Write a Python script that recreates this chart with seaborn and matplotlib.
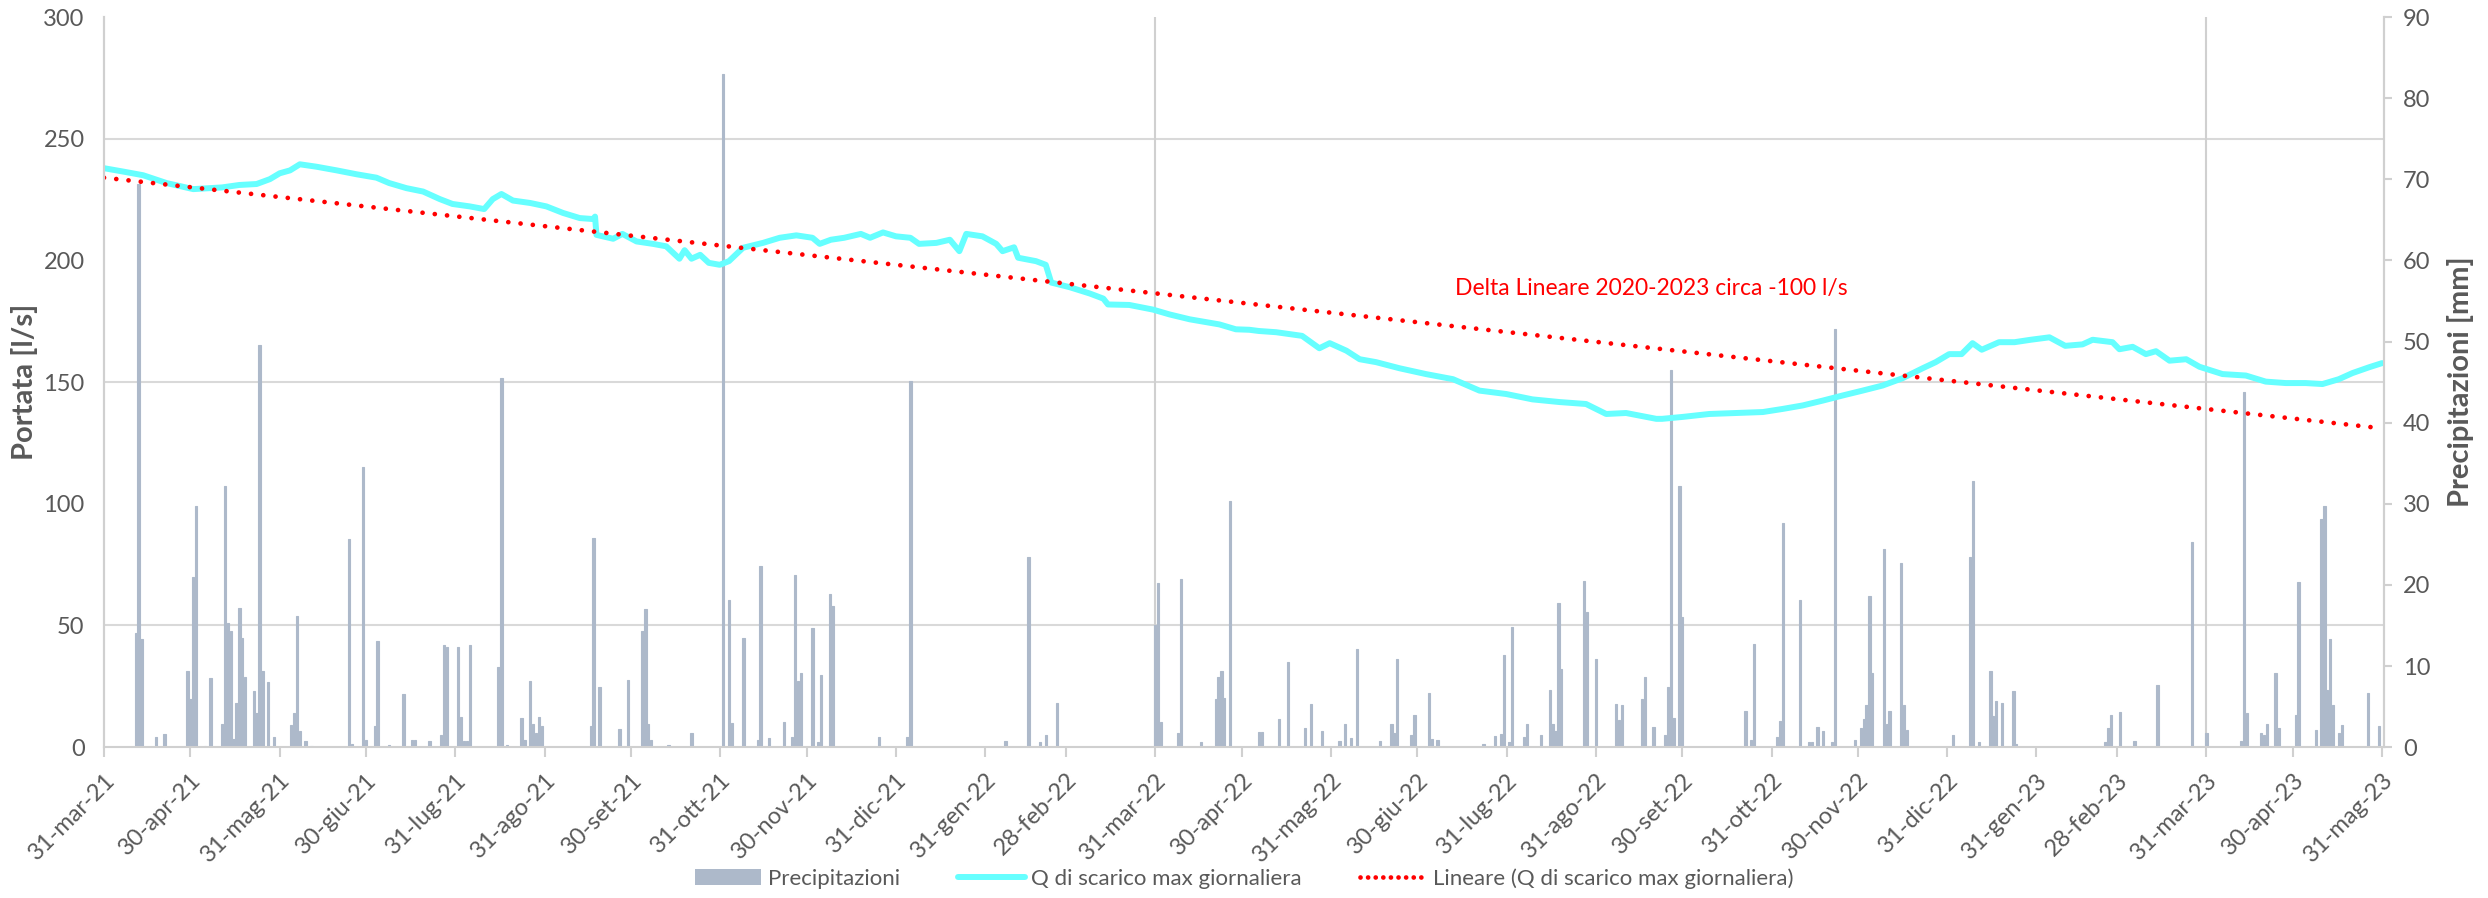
import numpy as np
import pandas as pd
import matplotlib
matplotlib.use("Agg")
import matplotlib.pyplot as plt
import seaborn as sns
from matplotlib.ticker import MultipleLocator, FixedLocator
from matplotlib.lines import Line2D
from matplotlib.patches import Patch

# Dati (giorni contati dal 31-mar-21)
start = pd.Timestamp("2021-03-31")

flow_days = [0, 6.7, 13.6, 21.7, 31, 41, 47, 53, 57.6, 61, 64.6, 68, 73.8, 80.8, 87.7, 94.6, 99, 105,
             110.8, 116.6, 121, 127, 132, 135, 138, 142, 148, 153.6, 159.4, 165.2, 169.8, 170.5, 171,
             176.8, 180, 184.9, 190.6, 195.2, 199.8, 201.6, 204, 207, 210, 213.8, 217, 221.9, 228.8,
             234.6, 240.4, 246, 248.5, 252.4, 257, 262.8, 266, 270.5, 275, 280, 283, 289, 293.7, 297,
             299.4, 305, 309.8, 312, 316, 317.4, 323.6, 327, 328.9, 335.3, 342.3, 347, 348.6, 356,
             364.2, 370, 377, 387.3, 393, 397.7, 401, 407, 416, 422, 425.6, 431.4, 436, 441.7, 449.8,
             459, 468.4, 477.6, 486.9, 496, 505.4, 514.6, 521.6, 528.5, 539, 541, 548.2, 557.4, 566.7,
             576, 583, 589.8, 596.8, 603.7, 610.6, 617.6, 624.5, 631.5, 636, 640.7, 645, 648.8, 652,
             658, 663.4, 669, 675.5, 681, 687, 690.5, 697.4, 699.8, 704.4, 709, 712.5, 717.2, 723,
             727.6, 735.6, 743.7, 750.6, 757.6, 764.5, 770.3, 776, 780.7, 786.5, 791]
flow_vals = [237.9, 236.5, 235, 231.8, 229.3, 230, 231, 231.4, 233.4, 235.8, 237, 239.5, 238.5, 237,
             235.4, 234, 231.8, 229.7, 228.3, 225.2, 223.2, 222.2, 221.1, 225.2, 227.3, 224.6, 223.6,
             222.2, 219.5, 217.4, 217, 218, 210.5, 208.9, 210.9, 207.8, 206.8, 205.8, 200.7, 204.2,
             200.7, 202.3, 199, 198.2, 199.7, 205.2, 207.2, 209.3, 210.3, 209.3, 206.8, 208.5, 209.3,
             210.9, 209.3, 211.5, 209.9, 209.3, 206.8, 207.2, 208.5, 203.8, 210.9, 209.9, 206.8, 203.8,
             205.4, 201.1, 199.7, 198.2, 190.9, 189, 186.4, 184.3, 181.9, 181.7, 179.8, 177.8, 175.8,
             173.7, 171.7, 171.5, 171, 170.5, 169, 163.9, 166, 162.9, 159.4, 158.2, 155.7, 153.3, 151.2,
             146.5, 145.1, 142.9, 141.8, 141, 136.9, 137.3, 134.9, 134.9, 135.7, 136.9, 137.3, 137.7,
             139, 140.4, 142.4, 144.5, 146.5, 148.6, 151.6, 155.7, 158.2, 161.5, 161.5, 166, 163.3,
             166.4, 166.4, 167.4, 168.4, 164.9, 165.5, 167.4, 166.4, 163.5, 164.5, 161.5, 162.7, 158.8,
             159.4, 156.3, 153.3, 152.7, 150.2, 149.6, 149.6, 149.2, 151.2, 153.7, 156.1, 157.8]

rain_days = [11, 12, 13, 18, 21, 29, 30, 31, 32, 35, 37, 41, 42, 43, 44, 45, 46, 47, 48, 49, 52, 53, 54,
             55, 57, 59, 65, 66, 67, 68, 70, 72, 85, 86, 90, 91, 94, 95, 99, 104, 107, 108, 113, 117,
             118, 119, 123, 124, 125, 126, 127, 137, 138, 140, 145, 146, 148, 149, 150, 151, 152, 169,
             170, 172, 179, 182, 187, 188, 189, 190, 196, 204, 215, 217, 218, 222, 227, 228, 231, 236,
             239, 240, 241, 242, 246, 248, 249, 252, 253, 269, 279, 280, 313, 321, 325, 327, 331, 365,
             366, 367, 373, 374, 381, 386, 387, 388, 389, 391, 401, 402, 408, 411, 417, 419, 423, 429,
             431, 433, 435, 443, 447, 448, 449, 454, 455, 460, 461, 463, 479, 483, 485, 486, 488, 489,
             493, 494, 499, 502, 503, 504, 505, 506, 514, 515, 518, 525, 526, 527, 534, 535, 538, 542,
             543, 544, 545, 547, 548, 570, 572, 573, 581, 582, 583, 589, 592, 593, 595, 597, 600, 601,
             608, 610, 611, 612, 613, 614, 618, 619, 620, 624, 625, 626, 642, 648, 649, 651, 655, 656,
             657, 659, 663, 664, 695, 696, 697, 700, 705, 713, 725, 730, 742, 743, 744, 749, 750, 751,
             754, 755, 761, 762, 768, 770, 771, 772, 773, 774, 776, 777, 786, 790]
rain_mm = [14.1, 69.4, 13.3, 1.2, 1.6, 9.4, 5.9, 21, 29.7, 0.2, 8.5, 2.9, 32.2, 15.3, 14.3, 1.0, 5.5,
           17.1, 13.4, 8.7, 6.9, 4.2, 49.6, 9.4, 8.0, 1.2, 2.7, 4.2, 16.2, 2.0, 0.8, 0.2, 25.7, 0.4,
           34.5, 0.9, 2.6, 13.1, 0.3, 6.6, 0.9, 0.9, 0.7, 1.5, 12.6, 12.4, 12.3, 3.7, 0.7, 0.7, 12.6,
           9.9, 45.5, 0.3, 3.6, 0.9, 8.1, 2.9, 1.8, 3.7, 2.6, 2.6, 25.8, 7.4, 2.2, 8.3, 14.3, 17.0, 2.9,
           0.9, 0.3, 1.7, 83, 18.1, 3.0, 13.5, 0.9, 22.3, 1.1, 3.1, 1.3, 21.2, 8.1, 9.1, 14.7, 0.6, 8.9,
           18.9, 17.4, 1.3, 1.2, 45.1, 0.7, 23.4, 0.6, 1.5, 5.5, 15.0, 20.2, 3.1, 1.7, 20.7, 0.6, 5.9,
           8.7, 9.4, 6.1, 30.4, 1.9, 1.9, 3.5, 10.5, 2.4, 5.3, 2.0, 0.7, 2.9, 1.1, 12.1, 0.7, 2.8, 1.8,
           10.9, 1.5, 3.9, 6.7, 1.0, 0.9, 0.4, 1.4, 1.6, 11.3, 0.6, 14.8, 1.3, 2.8, 1.5, 7.1, 2.8, 2.0,
           17.8, 9.6, 20.5, 16.7, 10.9, 5.3, 3.4, 5.2, 5.9, 8.6, 2.5, 1.5, 7.4, 46.5, 3.6, 32.2, 16.1,
           4.5, 0.9, 12.7, 1.2, 3.2, 27.6, 18.1, 0.6, 0.6, 2.5, 2.0, 0.6, 51.6, 0.9, 2.4, 3.5, 5.2, 18.6,
           9.2, 24.4, 2.9, 4.5, 22.7, 5.2, 2.1, 1.5, 23.4, 32.8, 0.6, 9.4, 3.8, 5.7, 5.5, 6.9, 0.4, 0.6,
           2.4, 3.9, 4.3, 0.8, 7.6, 25.3, 1.7, 0.7, 43.8, 4.2, 1.7, 1.5, 2.8, 9.1, 2.3, 4.0, 20.3, 2.1,
           28.1, 29.7, 7.0, 13.3, 5.2, 1.8, 2.7, 6.7, 2.6]

trend_days = [0, 791]
trend_vals = [234, 131]

mesi = ["gen", "feb", "mar", "apr", "mag", "giu", "lug", "ago", "set", "ott", "nov", "dic"]

flow_dates = start + pd.to_timedelta(flow_days, unit="D")
rain_dates = start + pd.to_timedelta(rain_days, unit="D")
trend_dates = start + pd.to_timedelta(trend_days, unit="D")
tick_dates = pd.date_range("2021-03-31", "2023-05-31", freq="ME")
tick_labels = [f"{d.day}-{mesi[d.month - 1]}-{d.strftime('%y')}" for d in tick_dates]

sns.set_theme(style="white")
plt.rcParams["font.family"] = ["Lato", "DejaVu Sans"]

grey_txt = "#595959"
grey_line = "#D0D0D0"
bar_col = "#ADB9CA"

fig, ax = plt.subplots(figsize=(24.88, 8.98), dpi=100)
fig.subplots_adjust(left=0.0418, right=0.958, bottom=0.168, top=0.981)
ax2 = ax.twinx()
ax.set_zorder(2)
ax2.set_zorder(1)
ax.patch.set_visible(False)

# precipitazioni (asse destro)
ax2.bar(rain_dates, rain_mm, width=0.8, color=bar_col, edgecolor=bar_col, linewidth=0.8, zorder=2)
for d in ["2022-03-31", "2023-03-31"]:
    ax2.axvline(pd.Timestamp(d), color="#D0D0D0", lw=1.5, zorder=1)
ax2.set_ylim(0, 90)
ax2.yaxis.set_major_locator(MultipleLocator(10))
ax2.yaxis.set_minor_locator(MultipleLocator(15))
ax2.grid(which="minor", axis="y", color="#D9D9D9", lw=1.5)
ax2.set_axisbelow(True)
ax2.tick_params(axis="y", which="major", length=6, width=1.5, color=grey_line,
                labelsize=17, labelcolor=grey_txt, pad=8)
ax2.tick_params(axis="y", which="minor", length=0)
ax2.set_ylabel("Precipitazioni [mm]", fontsize=21, fontweight="bold", color=grey_txt, labelpad=12)

# portata (asse sinistro)
sns.lineplot(x=flow_dates, y=flow_vals, ax=ax, color="#66FFFF", lw=4.3, legend=False)
ax.plot(trend_dates, trend_vals, color="#FF0000", lw=3.4, linestyle=(0, (0.01, 2.6)),
        dash_capstyle="round")
ax.set_ylim(0, 300)
ax.yaxis.set_major_locator(MultipleLocator(50))
ax.tick_params(axis="y", length=0, labelsize=17, labelcolor=grey_txt, pad=14)
ax.set_ylabel("Portata [l/s]", fontsize=21, fontweight="bold", color=grey_txt, labelpad=4)

ax.set_xlim(start, pd.Timestamp("2023-05-31") + pd.Timedelta(hours=12))
ax.xaxis.set_major_locator(FixedLocator(matplotlib.dates.date2num(tick_dates)))
ax.set_xticklabels(tick_labels, rotation=45, ha="right", rotation_mode="anchor")
ax.tick_params(axis="x", length=7, width=1.5, color=grey_line, labelsize=17,
               labelcolor=grey_txt, pad=9, direction="out", bottom=True)
ax.set_xlabel("")

for a in (ax, ax2):
    a.spines["top"].set_visible(False)
    for s in ("left", "right", "bottom"):
        a.spines[s].set_color(grey_line)
        a.spines[s].set_linewidth(1.5)
ax2.spines["bottom"].set_visible(False)

ax.text(start + pd.Timedelta(days=469), 188.6, "Delta Lineare 2020-2023 circa -100 l/s",
        color="#FF0000", fontsize=16.5, va="center", ha="left")

handles = [
    Patch(facecolor=bar_col, edgecolor="none"),
    Line2D([], [], color="#66FFFF", lw=4.3),
    Line2D([], [], color="#FF0000", lw=3.4, linestyle=(0, (0.01, 1.6)), dash_capstyle="round"),
]
labels = ["Precipitazioni", "Q di scarico max giornaliera", "Lineare (Q di scarico max giornaliera)"]
fig.legend(handles, labels, loc="lower center", bbox_to_anchor=(0.5, -0.012), ncol=3, frameon=False,
           fontsize=16, labelcolor=grey_txt, handlelength=3.0, columnspacing=2.6, handletextpad=0.3)

fig.savefig("out.png", dpi=100)
